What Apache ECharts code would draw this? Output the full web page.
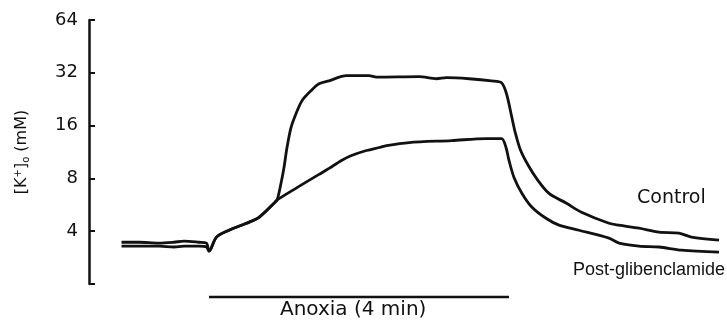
<!DOCTYPE html>
<html>
<head>
<meta charset="utf-8">
<script src="https://cdn.jsdelivr.net/npm/echarts@6/dist/echarts.min.js"></script>
<style>
  html, body { margin: 0; padding: 0; background: #fff; }
  #main { width: 727px; height: 323px; }
</style>
</head>
<body>
<div id="main"></div>
<script>
// time in seconds from the start of anoxia, [K+]o in mM
const controlTime = [-70, -56, -40, -28, -20, -8, -2, 0, 6, 16, 30, 40, 52, 54.4, 57.6, 60, 62.4, 65.6, 69.6, 74.4, 81.6, 88, 96, 110, 128, 134, 168, 182, 190, 208, 226, 234, 238, 242, 245, 249, 255, 262, 272, 286, 298, 320, 328, 344, 360, 376, 386, 408];
const controlK = [3.29, 3.29, 3.29, 3.25, 3.29, 3.29, 3.25, 3.08, 3.7, 4.05, 4.44, 4.8, 5.77, 6.0, 7.5, 9.24, 12.0, 15.58, 18.7, 22.2, 25.3, 27.7, 28.8, 30.8, 30.8, 30.2, 30.4, 29.6, 30.0, 29.6, 28.8, 28.1, 24.3, 18.2, 14.6, 11.7, 9.6, 8.0, 6.57, 5.77, 5.13, 4.44, 4.33, 4.16, 3.95, 3.9, 3.7, 3.56];
const postTime = [-70, -56, -40, -28, -20, -8, -2, 0, 6, 16, 30, 40, 52, 54, 72, 88, 96, 106, 114, 126, 136, 142, 160, 194, 222, 234, 237.6, 240, 244, 250.4, 258.4, 269.6, 280, 296, 320, 328, 344, 360, 378, 408];
const postK = [3.46, 3.46, 3.42, 3.46, 3.51, 3.46, 3.42, 3.08, 3.7, 4.05, 4.44, 4.8, 5.77, 6.0, 7.2, 8.43, 9.12, 10.13, 10.81, 11.54, 12.0, 12.3, 12.8, 13.15, 13.5, 13.5, 12.0, 10.13, 8.1, 6.57, 5.48, 4.74, 4.33, 4.05, 3.65, 3.42, 3.29, 3.25, 3.12, 3.04];
const yTicks = [2, 4, 8, 16, 32, 64];
const anoxiaTime = [0, 240];

const pairs = (t, v) => t.map((x, i) => [x, v[i]]);

const chart = echarts.init(document.getElementById('main'));
const ink = '#111';

chart.setOption({
  animation: false,
  grid: [
    { left: 89, right: 5.5, top: 20, bottom: 39 },
    { left: 89, right: 5.5, top: 292, height: 10 }
  ],
  xAxis: [
    { gridIndex: 0, type: 'value', min: -96, max: 410, show: false },
    { gridIndex: 1, type: 'value', min: -96, max: 410, show: false }
  ],
  yAxis: [
    {
      gridIndex: 0,
      type: 'log',
      logBase: 2,
      min: yTicks[0],
      max: yTicks[yTicks.length - 1],
      axisLine: { show: true, onZero: false, lineStyle: { color: ink, width: 2.5 } },
      axisTick: { show: true, inside: true, length: 6, lineStyle: { color: ink, width: 2 } },
      splitLine: { show: false },
      axisLabel: {
        color: ink,
        fontSize: 18,
        fontFamily: 'DejaVu Sans',
        margin: 11,
        formatter: v => (Math.round(v) === yTicks[0] ? '' : String(Math.round(v)))
      },
      name: '[K{sup|+}]{sub|o} (mM)',
      nameLocation: 'middle',
      nameRotate: 90,
      nameGap: 58,
      nameTextStyle: {
        color: ink,
        fontSize: 16,
        fontFamily: 'DejaVu Sans',
        rich: {
          sup: { fontSize: 10, fontFamily: 'DejaVu Sans', color: ink, verticalAlign: 'top', padding: [0, 0, 8, 0] },
          sub: { fontSize: 10, fontFamily: 'DejaVu Sans', color: ink, verticalAlign: 'bottom', padding: [6, 0, 0, 0] }
        }
      }
    },
    { gridIndex: 1, type: 'value', min: 0, max: 1, show: false }
  ],
  series: [
    {
      name: 'Control',
      type: 'line',
      xAxisIndex: 0,
      yAxisIndex: 0,
      data: pairs(controlTime, controlK),
      showSymbol: false,
      smooth: 0.3,
      lineStyle: { color: ink, width: 2.8 }
    },
    {
      name: 'Post-glibenclamide',
      type: 'line',
      xAxisIndex: 0,
      yAxisIndex: 0,
      data: pairs(postTime, postK),
      showSymbol: false,
      smooth: 0.3,
      lineStyle: { color: ink, width: 2.8 }
    },
    {
      name: 'Anoxia',
      type: 'line',
      xAxisIndex: 1,
      yAxisIndex: 1,
      data: anoxiaTime.map(t => [t, 0.5]),
      showSymbol: false,
      lineStyle: { color: ink, width: 2.5 }
    }
  ],
  graphic: [
    { type: 'text', left: 637, top: 189, style: { text: 'Control', fill: ink, fontSize: 19, fontFamily: 'DejaVu Sans' } },
    { type: 'text', left: 573, top: 261, style: { text: 'Post-glibenclamide', fill: ink, fontSize: 18, fontFamily: 'Liberation Sans' } },
    { type: 'text', left: 280, top: 300, style: { text: 'Anoxia (4 min)', fill: ink, fontSize: 20, fontFamily: 'DejaVu Sans' } }
  ]
});
</script>
</body>
</html>
